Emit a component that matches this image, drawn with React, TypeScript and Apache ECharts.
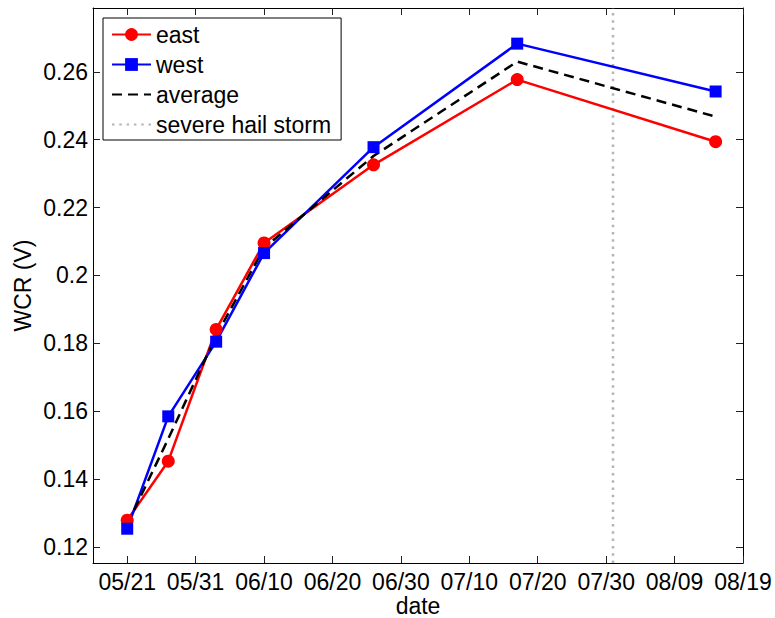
import React, { useEffect, useRef } from 'react';
import * as echarts from 'echarts';

// ---- data ----
const dates = ['05/21', '05/27', '06/03', '06/10', '06/26', '07/17', '08/15'];
const east = [0.1279, 0.1453, 0.1841, 0.2096, 0.2326, 0.2577, 0.2394];
const west = [0.1254, 0.1585, 0.1805, 0.2066, 0.2378, 0.2683, 0.2542];
const average = [0.1267, 0.1519, 0.1823, 0.2081, 0.2352, 0.263, 0.2468];
const hailDate = '07/31';
const xTickLabels = ['05/21', '05/31', '06/10', '06/20', '06/30', '07/10', '07/20', '07/30', '08/09', '08/19'];
const yTicks = [0.12, 0.14, 0.16, 0.18, 0.2, 0.22, 0.24, 0.26];
const xRange = ['05/16', '08/19'];
const yRange = [0.1153, 0.2788];

const YEAR = 2013;
const ORIGIN = Date.UTC(YEAR, 4, 21);
const dayNum = (s: string) => {
  const [m, d] = s.split('/').map(Number);
  return Math.round((Date.UTC(YEAR, m - 1, d) - ORIGIN) / 86400000);
};

const FONT = "'Liberation Sans', Arial, Helvetica, sans-serif";

export default function App() {
  const ref = useRef<HTMLDivElement>(null);
  useEffect(() => {
    if (!ref.current) return;
    const chart = echarts.init(ref.current, undefined, { renderer: 'svg' });
    const xTicks = xTickLabels.map(dayNum);
    const xMin = dayNum(xRange[0]);
    const xMax = dayNum(xRange[1]);
    const xFmt = (v: number) => {
      const i = xTicks.indexOf(Math.round(v));
      return i >= 0 ? xTickLabels[i] : '';
    };
    const axisLine = { show: true, onZero: false, lineStyle: { color: '#000', width: 1 } };
    const axisTick = (vals: number[]) => ({
      show: true,
      inside: false,
      length: -7,
      customValues: vals,
      lineStyle: { color: '#222', width: 1 },
    });
    const labelStyle = { color: '#000', fontSize: 23, fontFamily: FONT };

    const pts = (vals: number[]) => dates.map((d, i) => [dayNum(d), vals[i]]);

    chart.setOption({
      animation: false,
      backgroundColor: '#fff',
      grid: { left: 93, right: 32, top: 8, bottom: 55, containLabel: false, outerBoundsMode: 'none' },
      xAxis: [
        {
          type: 'value',
          min: xMin,
          max: xMax,
          name: 'date',
          nameLocation: 'middle',
          nameGap: 31,
          nameMoveOverlap: false,
          nameTextStyle: labelStyle,
          axisLine,
          axisTick: axisTick(xTicks),
          axisLabel: { ...labelStyle, margin: 7, customValues: xTicks, formatter: xFmt },
          splitLine: { show: false },
        },
        {
          type: 'value',
          position: 'top',
          min: xMin,
          max: xMax,
          axisLine,
          axisTick: axisTick(xTicks),
          axisLabel: { show: false },
          splitLine: { show: false },
        },
      ],
      yAxis: [
        {
          type: 'value',
          min: yRange[0],
          max: yRange[1],
          name: 'WCR (V)',
          nameLocation: 'middle',
          nameGap: 59,
          nameMoveOverlap: false,
          nameTextStyle: labelStyle,
          axisLine,
          axisTick: axisTick(yTicks),
          axisLabel: {
            ...labelStyle,
            margin: 5,
            customValues: yTicks,
            formatter: (v: number) => String(Number(v.toFixed(2))),
          },
          splitLine: { show: false },
        },
        {
          type: 'value',
          position: 'right',
          min: yRange[0],
          max: yRange[1],
          axisLine,
          axisTick: axisTick(yTicks),
          axisLabel: { show: false },
          splitLine: { show: false },
        },
      ],
      legend: {
        orient: 'vertical',
        left: 103,
        top: 18,
        padding: [5, 10, 4, 8],
        itemWidth: 39,
        itemHeight: 16,
        itemGap: 7,
        backgroundColor: '#fff',
        borderColor: '#000',
        borderWidth: 1,
        borderRadius: 0,
        textStyle: { ...labelStyle },
        data: [
          { name: 'east' },
          { name: 'west' },
          { name: 'average', itemStyle: { opacity: 0 } },
          { name: 'severe hail storm', itemStyle: { opacity: 0 } },
        ],
      },
      series: [
        {
          name: 'severe hail storm',
          type: 'line',
          data: [
            [dayNum(hailDate), yRange[0]],
            [dayNum(hailDate), yRange[1]],
          ],
          symbol: 'none',
          lineStyle: { color: '#b4b4b4', width: 2.5, type: [2.5, 4.8] },
          itemStyle: { color: '#b4b4b4' },
          silent: true,
        },
        {
          name: 'east',
          type: 'line',
          data: pts(east),
          symbol: 'circle',
          symbolSize: 13,
          lineStyle: { color: '#ff0000', width: 2.5 },
          itemStyle: { color: '#ff0000' },
        },
        {
          name: 'west',
          type: 'line',
          data: pts(west),
          symbol: 'rect',
          symbolSize: 12,
          lineStyle: { color: '#0000ff', width: 2.5 },
          itemStyle: { color: '#0000ff' },
        },
        {
          name: 'average',
          type: 'line',
          data: pts(average),
          symbol: 'none',
          lineStyle: { color: '#000', width: 2.5, type: [10, 6] },
          itemStyle: { color: '#000' },
        },
      ],
    });
    return () => chart.dispose();
  }, []);
  return (
    <div
      ref={ref}
      style={{ position: 'absolute', left: 0, top: 0, width: 775, height: 618 }}
    />
  );
}
